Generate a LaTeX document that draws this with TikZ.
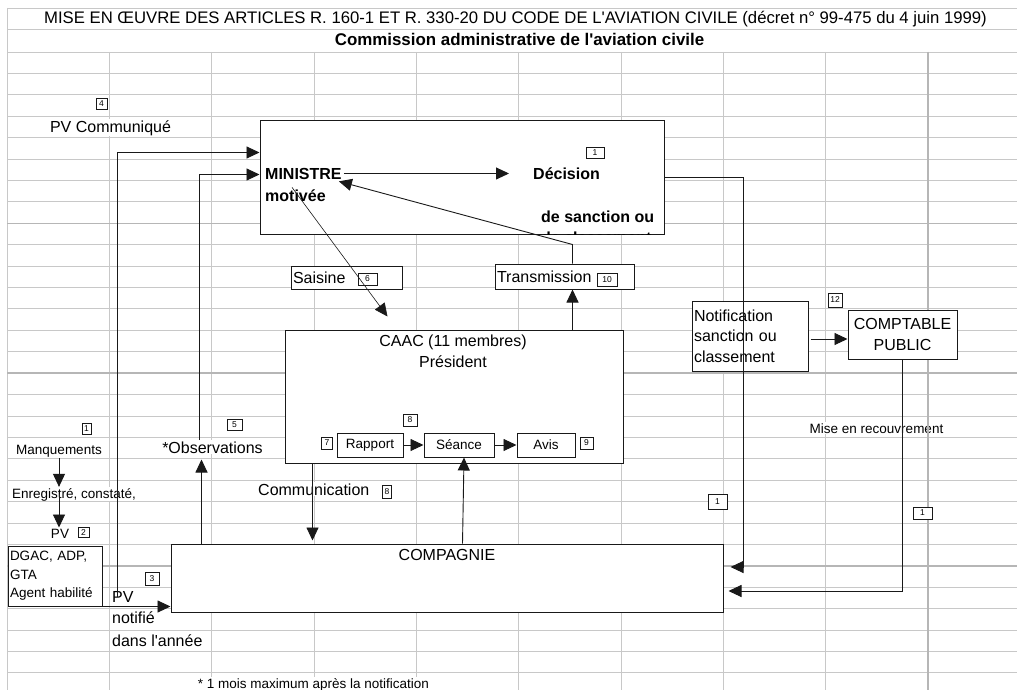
\documentclass[tikz,border=0pt]{standalone}
\usepackage{fontspec}
\setmainfont{Liberation Sans}[Ligatures=TeXOff]
\usepackage{tikz}
\usetikzlibrary{arrows.meta,positioning,calc}
\definecolor{gridgray}{RGB}{200, 200, 200}
\definecolor{breakgray}{RGB}{182, 182, 182}
\definecolor{inkblack}{RGB}{25, 25, 25}

\begin{document}
\begin{tikzpicture}[
  x=1pt, y=-1pt,
  gridline/.style={draw=gridgray, line width=0.9pt},
  breakline/.style={draw=breakgray, line width=1.5pt},
  celltext/.style={fill=white, inner sep=1pt, font=\fontsize{16}{20.5}\selectfont},
  boxtext/.style={inner sep=2pt, font=\fontsize{16}{20.5}\selectfont},
  smalltext/.style={font=\fontsize{13.5}{18.5}\selectfont},
  boldtext/.style={font=\fontsize{16}{22}\selectfont\bfseries},
  shapebox/.style={rectangle, draw=inkblack, fill=white, line width=1pt, inner sep=2pt, font=\fontsize{16}{20.5}\selectfont},
  numtag/.style={rectangle, draw=inkblack, fill=white, line width=0.8pt, inner sep=0pt, minimum width=11pt, minimum height=11pt, font=\fontsize{8.5}{9}\selectfont},
  arrow/.style={-{Triangle[length=13pt,width=12pt]}, line width=0.9pt, color=inkblack},
  thinarrow/.style={arrow, line width=0.6pt}
]
\path[use as bounding box, fill=white] (0,0) rectangle (1017,690);

% sheet grid, columns first
\foreach \c in {1,...,9}
  \draw[gridline] (7+102.33*\c,52) -- (7+102.33*\c,690);
\draw[gridline] (7,8) -- (7,690);

% headings and loose cell texts
\node[celltext, font=\fontsize{16.7}{20}\selectfont, anchor=base] (title) at (515.5,24) {MISE EN ŒUVRE DES ARTICLES R. 160-1 ET R. 330-20 DU CODE DE L'AVIATION CIVILE (décret n° 99-475 du 4 juin 1999)};
\node[celltext, font=\fontsize{16.9}{20}\selectfont\bfseries, anchor=base] (subtitle) at (519.5,46) {Commission administrative de l'aviation civile};
\node[celltext, anchor=base] (pvcomm) at (110.5,132) {PV Communiqué};
\node[celltext, smalltext, anchor=base] (manq) at (59,454) {Manquements};
\node[celltext, smalltext, anchor=base west] (enreg) at (11,498) {Enregistré, constaté,};
\node[celltext, smalltext, anchor=base] (pvrec) at (60,538) {PV};
\node[celltext, anchor=base] (observ) at (212.5,453) {*Observations};
\node[celltext, anchor=base west] (communic) at (257,495) {Communication};
\node[celltext, anchor=base west] (pvtxt) at (111,602) {PV};
\node[celltext, anchor=base west] (notifie) at (111,623) {notifié};
\node[celltext, anchor=base west] (annee) at (111,646) {dans l'année};
\node[celltext, smalltext, anchor=base] (recouvr) at (876.5,433) {Mise en recouvrement};
\node[celltext, smalltext, anchor=base] (footnote) at (313.5,688) {* 1 mois maximum après la notification};

% sheet grid, rows
\foreach \r in {0,...,29}
  \draw[gridline] (7,52+21.41*\r) -- (1017,52+21.41*\r);
\draw[gridline] (7,8) -- (1017,8) (7,29) -- (1017,29);
\draw[breakline] (928,52) -- (928,690);
\draw[breakline] (7,223.3) -- (1017,223.3) (7,373.2) -- (1017,373.2) (7,565.8) -- (1017,565.8);

% boxes
\node[shapebox, minimum width=404pt, minimum height=113pt] (minbox) at (462,177.5) {};
\node[shapebox, text width=107pt, minimum height=23pt, align=left] (saisine) at (346.5,277.5) {Saisine};
\node[shapebox, text width=135pt, minimum height=25pt, align=left] (transmission) at (564.5,276.5) {Transmission};
\node[shapebox, minimum width=338pt, minimum height=133pt] (caac) at (454,396.5) {};
\node[shapebox, smalltext, minimum width=66pt, minimum height=24pt] (rapport) at (370,445) {Rapport};
\node[shapebox, smalltext, minimum width=70pt, minimum height=24pt, right=20pt of rapport] (seance) {Séance};
\node[shapebox, smalltext, minimum width=58pt, minimum height=24pt, right=22pt of seance] (avis) {Avis};
\node[shapebox, minimum width=552pt, minimum height=68pt] (compagnie) at (447,578) {};
\node[shapebox, smalltext, text width=90pt, minimum height=60pt, align=left] (dgac) at (55,576) {DGAC, ADP,\\GTA\\Agent habilité};
\node[shapebox, text width=112pt, minimum height=70pt, align=left] (notif) at (750,336) {Notification\\sanction ou\\classement};
\node[shapebox, font=\fontsize{16}{21}\selectfont, text width=105pt, minimum height=49pt, align=center] (comptable) at (902.5,334.5) {COMPTABLE\\PUBLIC};

% texts inside the large boxes
\node[boxtext, boldtext, anchor=base west] (ministre) at (263,179) {MINISTRE};
\node[boxtext, boldtext, anchor=base west] (motivee) at (263,201) {motivée};
\node[boxtext, boldtext, anchor=base west] (decision) at (531,179) {Décision};
\node[boxtext, boldtext, anchor=base west] (sanction) at (539,222) {de sanction ou};
\begin{scope}
  \clip (minbox.north west) rectangle (minbox.south east);
  \node[boxtext, boldtext, anchor=base west] (classement) at (539,243) {de classement};
\end{scope}
\node[boxtext, anchor=base] (caactitle) at (453,346) {CAAC (11 membres)};
\node[boxtext, anchor=base] (president) at (453,367) {Président};
\node[boxtext, anchor=base] (compagnietxt) at (447,560) {COMPAGNIE};

% numbered tags
\node[numtag] (tag4) at (101.5,104) {4};
\node[numtag, minimum width=18pt] (tag1a) at (595,152.5) {1};
\node[numtag, minimum width=19pt, minimum height=12pt] (tag6) at (367.5,279) {6};
\node[numtag, minimum width=20pt, minimum height=13pt] (tag10) at (607,279.5) {10};
\node[numtag, minimum width=14pt, minimum height=14pt] (tag12) at (835,300) {12};
\node[numtag, minimum width=9pt] (tag1b) at (86.5,428.5) {1};
\node[numtag, minimum width=15pt] (tag5) at (234.5,424.5) {5};
\node[numtag, minimum width=14pt, minimum height=12pt] (tag8a) at (410,420) {8};
\node[numtag, minimum height=12pt] (tag7) at (327,443) {7};
\node[numtag, minimum width=13pt, minimum height=12pt] (tag9) at (586.5,443) {9};
\node[numtag, minimum width=9pt, minimum height=13pt] (tag8b) at (387,491.5) {8};
\node[numtag, minimum height=10pt] (tag2) at (83.5,532.5) {2};
\node[numtag, minimum width=14pt, minimum height=13pt] (tag3) at (152,578.5) {3};
\node[numtag, minimum width=19pt, minimum height=15pt] (tag1c) at (717.5,501.5) {1};
\node[numtag, minimum width=19pt, minimum height=12pt] (tag1d) at (922.5,513) {1};

% connectors
\coordinate (pvlink) at ($(pvtxt.north west)+(6,7)$);
\coordinate (notifout) at ($(notif.east)+(2,3)$);
\draw[arrow] (manq.south) -- (manq.south |- enreg.north);
\draw[arrow] (manq.south |- enreg) -- (manq.south |- pvrec.north);
\draw[arrow] (dgac.south east) -- (dgac.south east -| compagnie.west);
\draw[arrow] (pvlink) |- ($(minbox.north west)+(0,32)$);
\draw[arrow] ($(observ.north west)+(38,0)$) |- ($(minbox.north west)+(0,54)$);
\draw[arrow] ($(compagnie.north west)+(31,0)$) -- ($(compagnie.north west)+(31,-84)$);
\draw[arrow] ($(caac.south west)+(28,0)$) -- ($(compagnie.north west)+(142,-3)$);
\draw[arrow] ($(compagnie.north west)+(292,0)$) -- ($(seance.south)+(5,0)$);
\draw[arrow] ($(caac.north east)+(-51,0)$) -- ($(transmission.south)+(8,0)$);
\draw[arrow] ($(transmission.north)+(8,0)$) -- ++(0,-19) -- ($(ministre.south east)+(-5,0)$);
\draw[thinarrow] ($(ministre.south west)+(29,6)$) -- ($(caac.north west)+(103,-13)$);
\draw[arrow, shorten >=22pt] (ministre.east) -- (ministre.east -| decision.west);
\draw[arrow] (rapport.east) -- (seance.west);
\draw[arrow] (seance.east) -- (avis.west);
\draw[arrow] (minbox.east) -- ++(79,0) |- ($(compagnie.east)+(7,-11)$);
\draw[arrow] (comptable.south) |- ($(compagnie.east)+(5,13)$);
\draw[arrow] (notifout) -- (notifout -| comptable.west);
\end{tikzpicture}
\end{document}
